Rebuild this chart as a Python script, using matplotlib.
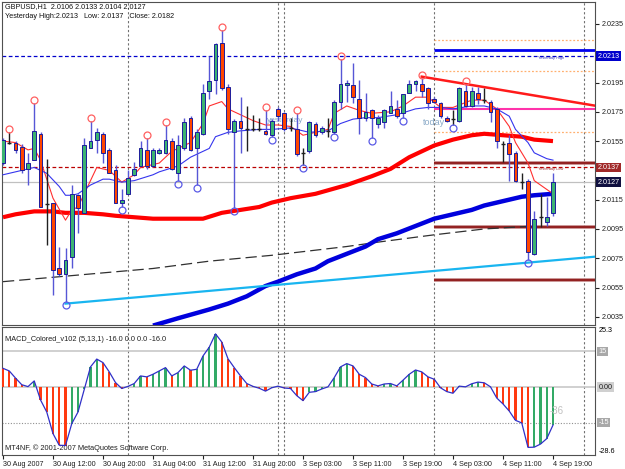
import matplotlib
matplotlib.use("Agg")
import matplotlib.pyplot as plt
from matplotlib.transforms import offset_copy, blended_transform_factory
import numpy as np

plt.rcParams['font.family'] = ['Liberation Sans', 'DejaVu Sans']

# GBPUSD H1 candles, 30 Aug 04:00 .. 4 Sep 19:00
opens = [2.0140, 2.0155, 2.0154, 2.0151, 2.0136, 2.0142, 2.0160, 2.0113, 2.0113, 2.0068,
         2.0064, 2.0076, 2.0118, 2.0106, 2.0150, 2.0156, 2.0160, 2.0149, 2.0135, 2.0113,
         2.0119, 2.0132, 2.0138, 2.0149, 2.0138, 2.0147, 2.0147, 2.0155, 2.0133, 2.0150,
         2.0171, 2.0150, 2.0160, 2.0189, 2.0197, 2.0222, 2.0192, 2.0161, 2.0169, 2.0163,
         2.0164, 2.0164, 2.0162, 2.0159, 2.0177, 2.0174, 2.0165, 2.0163, 2.0148, 2.0148,
         2.0167, 2.0161, 2.0162, 2.0161, 2.0182, 2.0193, 2.0193, 2.0184, 2.0171, 2.0176,
         2.0167, 2.0168, 2.0174, 2.0177, 2.0174, 2.0188, 2.0194, 2.0194, 2.0191, 2.0184,
         2.0181, 2.0171, 2.0171, 2.0169, 2.0189, 2.0179, 2.0188, 2.0184, 2.0182, 2.0177,
         2.0154, 2.0154, 2.0147, 2.0128, 2.0128, 2.0078, 2.0104, 2.0100, 2.0106]
highs = [2.0157, 2.0161, 2.0155, 2.0153, 2.0147, 2.0181, 2.0161, 2.0143, 2.0113, 2.0083,
         2.0082, 2.0125, 2.0119, 2.0157, 2.0169, 2.0164, 2.0161, 2.0150, 2.0139, 2.0122,
         2.0135, 2.0141, 2.0155, 2.0157, 2.0150, 2.0150, 2.0166, 2.0157, 2.0159, 2.0171,
         2.0172, 2.0163, 2.0194, 2.0213, 2.0222, 2.0231, 2.0194, 2.0170, 2.0185, 2.0179,
         2.0173, 2.0171, 2.0176, 2.0170, 2.0178, 2.0175, 2.0171, 2.0174, 2.0150, 2.0169,
         2.0168, 2.0165, 2.0171, 2.0183, 2.0211, 2.0197, 2.0208, 2.0197, 2.0188, 2.0177,
         2.0173, 2.0177, 2.0189, 2.0183, 2.0187, 2.0197, 2.0197, 2.0198, 2.0192, 2.0185,
         2.0182, 2.0172, 2.0176, 2.0192, 2.0194, 2.0192, 2.0192, 2.0191, 2.0183, 2.0178,
         2.0155, 2.0159, 2.0148, 2.0133, 2.0129, 2.0107, 2.0119, 2.0117, 2.0133]
lows = [2.0139, 2.0153, 2.0147, 2.0133, 2.0125, 2.0142, 2.0110, 2.0084, 2.0050, 2.0063,
        2.0045, 2.0068, 2.0092, 2.0106, 2.0150, 2.0147, 2.0140, 2.0133, 2.0113, 2.0110,
        2.0119, 2.0131, 2.0138, 2.0136, 2.0137, 2.0146, 2.0146, 2.0135, 2.0128, 2.0149,
        2.0148, 2.0125, 2.0159, 2.0184, 2.0187, 2.0190, 2.0160, 2.0109, 2.0147, 2.0148,
        2.0162, 2.0162, 2.0159, 2.0158, 2.0169, 2.0162, 2.0162, 2.0145, 2.0139, 2.0147,
        2.0158, 2.0160, 2.0158, 2.0160, 2.0177, 2.0182, 2.0181, 2.0160, 2.0169, 2.0157,
        2.0164, 2.0164, 2.0174, 2.0171, 2.0171, 2.0188, 2.0189, 2.0185, 2.0177, 2.0181,
        2.0171, 2.0168, 2.0166, 2.0168, 2.0178, 2.0178, 2.0180, 2.0181, 2.0168, 2.0150,
        2.0141, 2.0128, 2.0127, 2.0122, 2.0074, 2.0077, 2.0096, 2.0097, 2.0104]
closes = [2.0156, 2.0154, 2.0149, 2.0135, 2.0140, 2.0162, 2.0110, 2.0112, 2.0067, 2.0064,
          2.0074, 2.0119, 2.0109, 2.0152, 2.0155, 2.0161, 2.0147, 2.0133, 2.0113, 2.0115,
          2.0130, 2.0136, 2.0150, 2.0138, 2.0149, 2.0149, 2.0156, 2.0136, 2.0152, 2.0168,
          2.0149, 2.0161, 2.0188, 2.0196, 2.0221, 2.0191, 2.0163, 2.0169, 2.0164, 2.0163,
          2.0163, 2.0163, 2.0160, 2.0169, 2.0172, 2.0163, 2.0164, 2.0146, 2.0147, 2.0168,
          2.0159, 2.0164, 2.0162, 2.0182, 2.0194, 2.0195, 2.0185, 2.0171, 2.0175, 2.0171,
          2.0171, 2.0176, 2.0179, 2.0172, 2.0187, 2.0194, 2.0196, 2.0189, 2.0181, 2.0182,
          2.0172, 2.0169, 2.0170, 2.0191, 2.0179, 2.0189, 2.0184, 2.0183, 2.0175, 2.0155,
          2.0153, 2.0146, 2.0128, 2.0127, 2.0079, 2.0102, 2.0103, 2.0103, 2.0127]

# moving averages (bar index, price)
fast_ma_idx = [0, 2, 4, 5, 6, 8, 10, 11, 12, 14, 15, 17, 18, 19, 21, 22, 25, 27, 30, 32, 33, 35,
               36, 38, 40, 42, 44, 46, 48, 50, 52, 53, 55, 57, 59, 62, 64, 66, 68, 70, 72, 75,
               77, 79, 81, 82, 84, 85, 87, 88]
fast_ma = [2.0155, 2.0154, 2.0149, 2.0150, 2.0142, 2.0116, 2.0101, 2.0108, 2.0110, 2.0128,
           2.0137, 2.0135, 2.0131, 2.0127, 2.0132, 2.0137, 2.0140, 2.0148, 2.0154, 2.0167,
           2.0179, 2.0182, 2.0177, 2.0173, 2.0169, 2.0166, 2.0166, 2.0165, 2.0159, 2.0161,
           2.0163, 2.0174, 2.0179, 2.0176, 2.0174, 2.0175, 2.0179, 2.0185, 2.0185, 2.0178,
           2.0178, 2.0183, 2.0183, 2.0177, 2.0165, 2.0154, 2.0140, 2.0128, 2.0122, 2.0119]
slow_ma_idx = [0, 2, 4, 5, 7, 9, 10, 11, 12, 14, 16, 17, 19, 21, 24, 25, 28, 30, 33, 34, 36,
               38, 41, 43, 46, 49, 52, 54, 56, 58, 60, 63, 66, 68, 70, 72, 75, 77, 79, 81, 82,
               84, 85, 87, 88]
slow_ma = [2.0132, 2.0134, 2.0136, 2.0137, 2.0133, 2.0124, 2.0118, 2.0118, 2.0119, 2.0125,
           2.0129, 2.0129, 2.0127, 2.0128, 2.0132, 2.0134, 2.0138, 2.0144, 2.0150, 2.0158,
           2.0161, 2.0162, 2.0163, 2.0163, 2.0164, 2.0161, 2.0162, 2.0167, 2.0170, 2.0171,
           2.0171, 2.0173, 2.0177, 2.0178, 2.0178, 2.0177, 2.0179, 2.0179, 2.0177, 2.0172,
           2.0163, 2.0154, 2.0147, 2.0143, 2.0142]
ma100_idx = [0, 2, 5, 8, 10, 13, 16, 18, 21, 24, 27, 32, 35, 38, 41, 43, 46, 50, 55, 59, 62,
             65, 67, 69, 72, 75, 77, 80, 83, 85, 88]
ma100 = [2.0103, 2.0105, 2.0107, 2.0107, 2.0106, 2.0106, 2.0105, 2.0104, 2.0103, 2.0102,
         2.0102, 2.0102, 2.0106, 2.0108, 2.0110, 2.0113, 2.0116, 2.0119, 2.0125, 2.0131,
         2.0136, 2.0144, 2.0148, 2.0152, 2.0156, 2.0159, 2.0160, 2.0159, 2.0158, 2.0156, 2.0155]
ma200_idx = [24, 28, 33, 36, 39, 42, 44, 47, 50, 52, 55, 58, 60, 63, 66, 69, 72, 75, 77, 80,
             83, 85, 88]
ma200 = [2.0029, 2.0034, 2.0040, 2.0044, 2.0049, 2.0056, 2.0059, 2.0064, 2.0068, 2.0073,
         2.0078, 2.0083, 2.0088, 2.0092, 2.0097, 2.0102, 2.0105, 2.0108, 2.0111, 2.0114,
         2.0117, 2.0118, 2.0119]
long_ma_idx = [0, 8, 16, 24, 33, 43, 55, 60, 69, 77, 85]
long_ma = [2.0059, 2.0062, 2.0065, 2.0068, 2.0073, 2.0077, 2.0083, 2.0086, 2.0091, 2.0095, 2.0097]

# fractals
fractal_up = [1, 5, 14, 23, 26, 35, 42, 47, 54, 67, 74]
fractal_down = [10, 19, 28, 31, 37, 43, 48, 53, 59, 64, 72, 84]

# trend lines (anchor bar, price)
support_idx = [10, 84]
support_px = [2.0044, 2.0072]
resist_idx = [67, 74]
resist_px = [2.0199, 2.0194]

# levels
yest_high = 2.0213
yest_low = 2.0137
yest_close = 2.0182
pivot_dotted = [2.0224, 2.0203, 2.0161]
pivot_blue = 2.0217
pivot_pink = 2.0177
pivot_dark = [2.0140, 2.0096, 2.0060]
day_breaks = [20, 44, 45, 69, 93]
today_start = 69

macd = [7.9, 6.8, 3.8, 1.0, 0.2, 2.6, -5.4, -10.5, -19.6, -24.5,
        -24.6, -15.4, -10.5, -1.0, 8.5, 11.8, 10.3, 6.4, 1.9, -0.6,
        0.3, 1.5, 4.7, 4.3, 5.4, 6.8, 8.2, 4.7, 6.1, 8.9,
        7.1, 7.5, 13.1, 16.8, 22.4, 19.0, 11.9, 8.2, 4.7, 1.5,
        0.3, -0.5, -1.7, -0.3, 0.4, -0.4, -0.6, -3.6, -5.7, -2.2,
        -1.9, -0.8, 0.1, 4.0, 8.5, 9.9, 8.9, 5.4, 4.0, 1.3,
        0.5, 1.3, 1.5, 0.5, 2.9, 5.4, 7.2, 6.4, 4.3, 3.3,
        -0.3, -1.9, -2.6, 0.4, 0.1, 1.4, 2.1, 1.8, 0.1, -4.6,
        -7.1, -10.1, -14.0, -15.1, -25.4, -25.3, -24.0, -21.7, -16.0]

price_ticks = [2.0035, 2.0055, 2.0075, 2.0095, 2.0115, 2.0135, 2.0155, 2.0175, 2.0195, 2.0215, 2.0235]
hidden_ticks = [2.0135, 2.0215]   # covered by the price boxes
date_pos = [0, 8, 16, 24, 32, 40, 48, 56, 64, 72, 80, 88]
date_labels = ["30 Aug 2007", "30 Aug 12:00", "30 Aug 20:00", "31 Aug 04:00", "31 Aug 12:00",
               "31 Aug 20:00", "3 Sep 03:00", "3 Sep 11:00", "3 Sep 19:00", "4 Sep 03:00",
               "4 Sep 11:00", "4 Sep 19:00"]

W, H = 625, 469
fig = plt.figure(figsize=(W / 100, H / 100), dpi=100)
ax = fig.add_axes([2 / W, 144 / H, 593 / W, 323 / H])
ax2 = fig.add_axes([2 / W, 14 / H, 593 / W, 128 / H])
XMAX = 94.72

o = np.array(opens); h = np.array(highs); l = np.array(lows); c = np.array(closes)
idx = np.arange(len(o))

# ---- main panel
ax.set_xlim(-0.16, XMAX)
ax.set_ylim(2.00294, 2.02500)
for s in ax.spines.values():
    s.set_color('#505050'); s.set_linewidth(0.8)

for d in day_breaks:
    ax.axvline(d, color='#707070', ls=(0, (2, 2)), lw=0.8, zorder=1)
    ax2.axvline(d, color='#707070', ls=(0, (2, 2)), lw=0.8, zorder=1)

ax.axhline(yest_high, color='#0000cc', ls=(0, (3, 2)), lw=0.9, zorder=2)
ax.axhline(yest_low, color='#bb0000', ls=(0, (3, 2)), lw=0.9, zorder=2)
ax.axhline(c[-1], color='#c0c0c0', lw=0.9, zorder=1)

ax.hlines(pivot_dotted, today_start, XMAX, color='#ffb070', ls=(0, (1.5, 1.5)), lw=0.9, zorder=2)
ax.hlines(pivot_blue, today_start, XMAX, color='#0000ee', lw=2, zorder=2)
ax.hlines(pivot_pink, today_start, XMAX, color='#ff33aa', lw=1.5, zorder=2)
ax.hlines(pivot_dark, today_start, XMAX, color='#c08080', lw=2.6, zorder=2)
ax.hlines(pivot_dark, today_start, XMAX, color='#8b1010', lw=1.2, zorder=2)

ax.plot(long_ma_idx, long_ma, color='#303030', lw=0.9, ls=(0, (9, 4)), zorder=2)
ax.plot(ma100_idx, ma100, color='#ff0000', lw=3, zorder=3, solid_capstyle='butt')
ax.plot(ma200_idx, ma200, color='#0000dd', lw=3.2, zorder=3, solid_capstyle='butt')

sx0, sx1 = support_idx
sy0, sy1 = support_px
s_end = sy0 + (sy1 - sy0) / (sx1 - sx0) * (XMAX - sx0)
ax.plot([sx0, XMAX], [sy0, s_end], color='#19b5f0', lw=1.6, zorder=3)
rx0, rx1 = resist_idx
ry0, ry1 = resist_px
r_end = ry0 + (ry1 - ry0) / (rx1 - rx0) * (XMAX - rx0)
ax.plot([rx0, XMAX], [ry0, r_end], color='#ff1a1a', lw=1.8, zorder=3)

ax.plot(fast_ma_idx, fast_ma, color='#ff3030', lw=0.8, zorder=3)
ax.plot(slow_ma_idx, slow_ma, color='#3535ee', lw=0.8, zorder=3)

# candles
up = c >= o
body_lo = np.minimum(o, c)
body_h = np.abs(c - o)
doji = body_h < 0.00015
wick_col = np.where(doji, '#202020', '#5656d6')
ax.vlines(idx, l, h, colors=wick_col, lw=1, zorder=4)
fill = np.where(up, '#3cb371', '#ff4500')
nd = ~doji
ax.bar(idx[nd], body_h[nd], bottom=body_lo[nd], width=0.62, color=fill[nd],
       edgecolor='#1c1c9c', linewidth=0.7, zorder=5)
ax.hlines(c[doji], idx[doji] - 0.32, idx[doji] + 0.32, color='#202020', lw=1, zorder=5)

t_up = offset_copy(ax.transData, fig=fig, y=3, units='dots')
t_dn = offset_copy(ax.transData, fig=fig, y=-3, units='dots')
ax.plot(fractal_up, h[fractal_up], 'o', ms=5, mfc='none', mec='#ff6060', mew=0.9,
        transform=t_up, zorder=6)
ax.plot(fractal_down, l[fractal_down], 'o', ms=5, mfc='none', mec='#5a5ae6', mew=0.9,
        transform=t_dn, zorder=6)

ax.set_xticks([])
ax.yaxis.tick_right()
ax.set_yticks(price_ticks)
ax.set_yticklabels(["" if v in hidden_ticks else f"{v:.4f}" for v in price_ticks])
ax.tick_params(axis='y', labelsize=5.2, length=3, pad=1.5, colors='#202020')

bt = blended_transform_factory(ax.transAxes, ax.transData)
for val, bg in [(yest_high, '#0000cc'), (yest_low, '#a02828'), (c[-1], '#101040')]:
    ax.text(1.0045, val, f"{val:.4f}", transform=bt, fontsize=5.2, color='white',
            ha='left', va='center', zorder=10, clip_on=False,
            bbox=dict(boxstyle='square,pad=0.18', fc=bg, ec='none'))

ax.text(0.005, 0.985, f"GBPUSD,H1  {o[-1]:.4f} {h[-1]:.4f} {l[-1]:.4f} {c[-1]:.4f}",
        transform=ax.transAxes, fontsize=5.2, color='#101010', va='center', ha='left')
ax.text(0.005, 0.954, f"Yesterday High:{yest_high:.4f}   Low: {yest_low:.4f}   Close: {yest_close:.4f}",
        transform=ax.transAxes, fontsize=5.2, color='#101010', va='center', ha='left')
ax.text(42.2, 2.0169, "yesterday", fontsize=6, color='#8aaac8', va='center', zorder=3.5)
ax.text(67.2, 2.0168, "today", fontsize=6.5, color='#8aaac8', va='center', zorder=3.5)
ax.text(85.6, yest_high, "Yesterday High", fontsize=2.8, color='#3030c0', va='top')
ax.text(85.6, yest_low, "Yesterday Low", fontsize=2.8, color='#a03030', va='top')

# ---- MACD panel
m = np.array(macd)
rising = np.concatenate([[False], m[1:] >= m[:-1]])
ax2.set_xlim(-0.16, XMAX)
ax2.set_ylim(-28.6, 25.3)
for s in ax2.spines.values():
    s.set_color('#505050'); s.set_linewidth(0.8)
ax2.axhline(15, color='#c8c8c8', lw=1.2, zorder=1)
ax2.axhline(0, color='#c8c8c8', lw=1.2, zorder=1)
ax2.axhline(-15, color='#909090', lw=0.8, ls=(0, (1, 1.5)), zorder=1)
ax2.bar(idx, m, width=0.34, color=np.where(rising, '#33aa66', '#ff3a10'), zorder=3)
ax2.plot(idx, m, color='#3030c8', lw=0.9, zorder=4)

ax2.set_yticks([])
ax2.set_xticks(date_pos)
ax2.set_xticklabels(date_labels, ha='left')
ax2.tick_params(axis='x', labelsize=5.2, length=3, pad=1, colors='#202020')

bt2 = blended_transform_factory(ax2.transAxes, ax2.transData)
ax2.text(1.006, 25.3, "25.3", transform=bt2, fontsize=5.2, ha='left', va='top', clip_on=False)
ax2.text(1.006, -28.6, "-28.6", transform=bt2, fontsize=5.2, ha='left', va='bottom', clip_on=False)
for val, lab, bg, fg in [(15, "15", '#a8a8a8', 'white'), (0, "0.00", '#d0d0d0', '#202020'),
                         (-15, "-15", '#a8a8a8', 'white')]:
    ax2.text(1.006, val, lab, transform=bt2, fontsize=5.2, color=fg, ha='left', va='center',
             clip_on=False, bbox=dict(boxstyle='square,pad=0.15', fc=bg, ec='none'))

ax2.text(0.005, 0.9, "MACD_Colored_v102 (5,13,1) -16.0 0.0 0.0 -16.0", transform=ax2.transAxes,
         fontsize=5.3, color='#202020', va='center', ha='left')
ax2.text(0.005, 0.055, "MT4NF, \u00a9 2001-2007 MetaQuotes Software Corp.", transform=ax2.transAxes,
         fontsize=5.3, color='#202020', va='center', ha='left')
ax2.text(87.4, -10, "-36", fontsize=7, color='#c0c0c0', va='center', ha='left')

fig.savefig("out.png", dpi=100, facecolor='white')
